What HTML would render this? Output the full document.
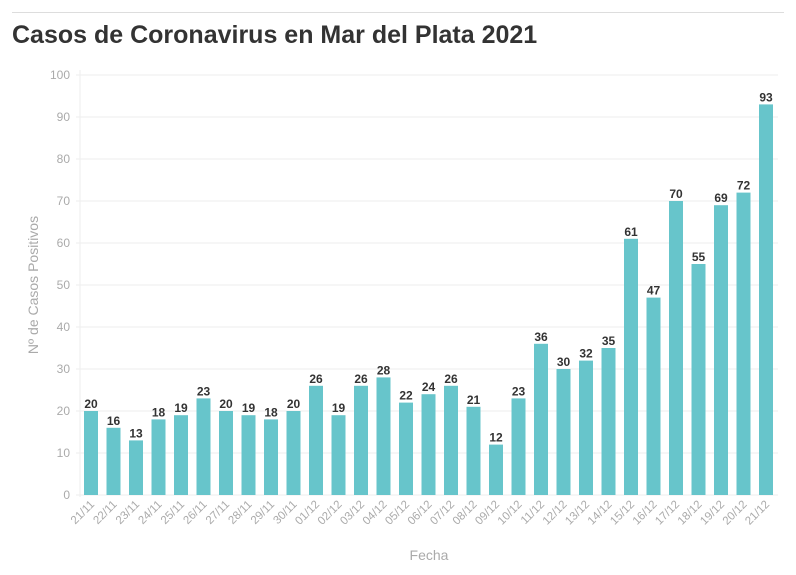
<!DOCTYPE html>
<html><head><meta charset="utf-8"><style>
body{margin:0;background:#fff;font-family:"Liberation Sans",sans-serif}
</style></head><body>
<div style="position:absolute;left:12px;top:12px;width:772px;height:1px;background:#ddd"></div>
<div style="position:absolute;left:12px;top:21px;font-size:25px;font-weight:bold;color:#333">Casos de Coronavirus en Mar del Plata 2021</div>
<svg id="c" width="796" height="575" style="position:absolute;left:0;top:0"></svg>
<script>
const categories=["21/11","22/11","23/11","24/11","25/11","26/11","27/11","28/11","29/11","30/11","01/12","02/12","03/12","04/12","05/12","06/12","07/12","08/12","09/12","10/12","11/12","12/12","13/12","14/12","15/12","16/12","17/12","18/12","19/12","20/12","21/12"];
const values=[20,16,13,18,19,23,20,19,18,20,26,19,26,28,22,24,26,21,12,23,36,30,32,35,61,47,70,55,69,72,93];
const yTicks=[0,10,20,30,40,50,60,70,80,90,100];
const svg=document.getElementById('c');const NS='http://www.w3.org/2000/svg';
const y0=495,y1=75,yMax=100,x0=91,step=22.5,bw=14;
const y=v=>y0-(v/yMax)*(y0-y1);
const x=i=>x0+i*step;
function mk(t,a,txt){const e=document.createElementNS(NS,t);for(const k in a)e.setAttribute(k,a[k]);if(txt!==undefined)e.textContent=txt;svg.appendChild(e);return e;}
yTicks.forEach(t=>{
 const g=mk('line',{x1:76,x2:778,y1:y(t),y2:y(t),stroke:'#eee','stroke-width':1});
 
 
 const l=mk('text',{x:70,y:y(t)+4,'text-anchor':'end','font-size':12,fill:'#aaa'},t);
 
 
});
const ax=mk('line',{x1:80,x2:80,y1:70,y2:497,stroke:'#eee','stroke-width':1});


values.forEach((v,i)=>{
 const r=mk('rect',{x:x(i)-bw/2,y:y(v),width:bw,height:y0-y(v),fill:'#67c5cb'});
 
 
 const t=mk('text',{x:x(i),y:y(v)-3,'text-anchor':'middle','font-size':12,'font-weight':'bold',fill:'#333'},v);
 
 
 const c=mk('text',{x:x(i)+4,y:505,'text-anchor':'end','font-size':11.5,fill:'#aaa',transform:`rotate(-45 ${x(i)+4} 505)`},categories[i]);
 
 
});
const xt=mk('text',{x:429,y:560,'text-anchor':'middle','font-size':14,fill:'#aaa'},'Fecha');


const yt=mk('text',{x:38,y:285,'text-anchor':'middle','font-size':14,fill:'#aaa',transform:'rotate(-90 38 285)'},'Nº de Casos Positivos');


</script>
</body></html>
